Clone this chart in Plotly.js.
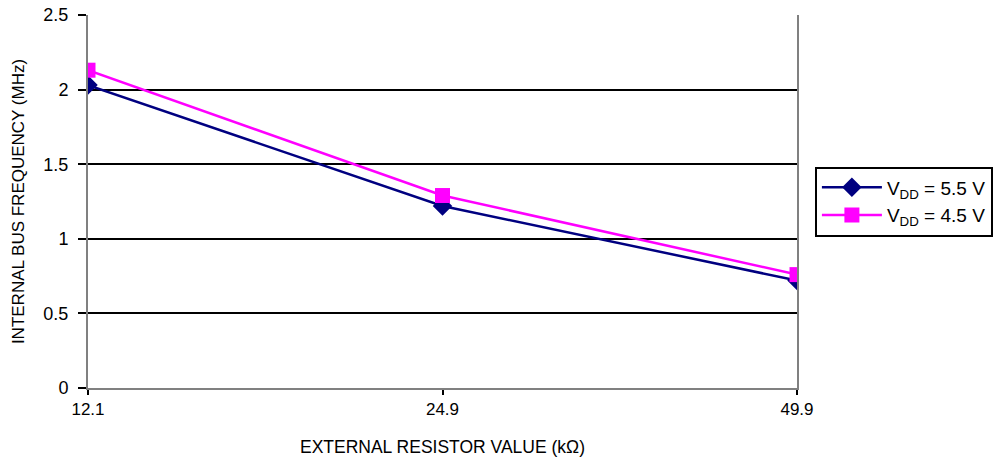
<!DOCTYPE html>
<html><head><meta charset="utf-8">
<script src="https://cdn.plot.ly/plotly-3.0.1.min.js"></script>
<style>html,body{margin:0;padding:0;background:#fff}#chart{width:995px;height:461px}</style>
</head><body><div id="chart"></div>
<script>
const categories = ['12.1', '24.9', '49.9'];
const vdd55 = [2.03, 1.22, 0.72];
const vdd45 = [2.13, 1.29, 0.76];
const seriesNames = ['V<sub>DD</sub> = 5.5 V', 'V<sub>DD</sub> = 4.5 V'];

const FONT = '"Liberation Sans Narrow", "Arial Narrow", "Liberation Sans", Arial, sans-serif';

const traces = [
  {x: categories, y: vdd55, name: seriesNames[0], type: 'scatter', mode: 'lines+markers',
   line: {color: '#000080', width: 2.5}, marker: {symbol: 'diamond', size: 15, color: '#000080'}},
  {x: categories, y: vdd45, name: seriesNames[1], type: 'scatter', mode: 'lines+markers',
   line: {color: '#FF00FF', width: 2.5}, marker: {symbol: 'square', size: 15, color: '#FF00FF'}}
];

const layout = {
  width: 995, height: 461,
  margin: {l: 88, r: 198, t: 15, b: 73, autoexpand: false},
  paper_bgcolor: '#fff', plot_bgcolor: '#fff',
  font: {family: FONT, size: 17, color: '#000'},
  showlegend: true,
  legend: {xref: 'container', x: 0.819, xanchor: 'left', y: 0.5, yanchor: 'middle', itemwidth: 60,
    bordercolor: '#000', borderwidth: 2, bgcolor: '#fff', font: {family: FONT, size: 19}},
  xaxis: {type: 'category', range: [0, 2], showgrid: false, zeroline: false,
    showline: true, linecolor: '#808080', linewidth: 2,
    ticks: 'outside', ticklen: 5, tickcolor: '#000', tickwidth: 2,
    tickfont: {family: FONT, size: 17},
    title: {text: 'EXTERNAL RESISTOR VALUE (kΩ)', font: {family: FONT, size: 17.5}, standoff: 22}},
  yaxis: {range: [0, 2.5], dtick: 0.5, tick0: 0, showgrid: true, gridcolor: '#000', gridwidth: 2,
    zeroline: false, showline: true, linecolor: '#808080', linewidth: 2, mirror: true,
    ticks: 'outside', ticklen: 8, tickcolor: '#000', tickwidth: 2, ticklabelstandoff: 6,
    tickfont: {family: FONT, size: 18},
    title: {text: 'INTERNAL BUS FREQUENCY (MHz)', font: {family: FONT, size: 17}, standoff: 14}}
};

Plotly.newPlot('chart', traces, layout, {displayModeBar: false, staticPlot: true});
</script></body></html>
